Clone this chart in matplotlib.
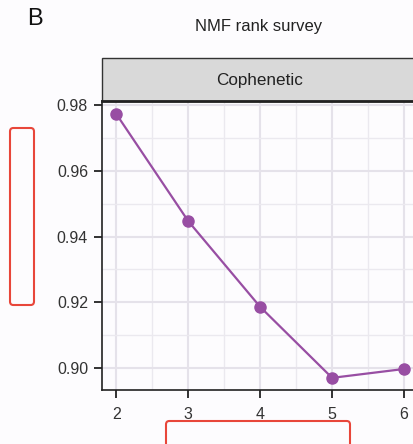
import matplotlib
matplotlib.use("Agg")
import matplotlib.pyplot as plt
from matplotlib.patches import Rectangle, FancyBboxPatch

ranks = [2, 3, 4, 5, 6]
cophenetic = [0.9773, 0.9447, 0.9186, 0.8970, 0.8997]
yticks = [0.90, 0.92, 0.94, 0.96, 0.98]
ytick_labels = ["0.90", "0.92", "0.94", "0.96", "0.98"]
title = "NMF rank survey"
strip_label = "Cophenetic"
panel_letter = "B"

plt.rcParams['font.family'] = ['Liberation Sans', 'DejaVu Sans']

W, H = 414, 444
fig = plt.figure(figsize=(W/100, H/100), dpi=100)
fig.patch.set_facecolor('#fdfcfe')

def fx(px): return px / W
def fy(py): return 1 - py / H

left, right, top, bottom = 102, 418.4, 101, 390
ax = fig.add_axes([fx(left), fy(bottom), fx(right - left), (bottom - top) / H])
ax.set_facecolor('#fdfcfe')

ax.plot(ranks, cophenetic, color='#984ea3', lw=1.6, marker='o', ms=8, zorder=3, clip_on=False)

ax.set_xlim(1.8, 6.2)
ax.set_ylim(0.8933, 0.9813)
ax.set_xticks(ranks)
ax.set_xticklabels([str(r) for r in ranks])
ax.set_yticks(yticks)
ax.set_yticklabels(ytick_labels)
ax.set_xticks([2.5, 3.5, 4.5, 5.5], minor=True)
ax.set_yticks([0.91, 0.93, 0.95, 0.97], minor=True)
ax.grid(which='major', color='#e5e2ea', lw=1.5)
ax.grid(which='minor', color='#ebe9ef', lw=1.0)
ax.set_axisbelow(True)
ax.tick_params(which='minor', length=0)
ax.tick_params(which='major', length=5.5, width=1.3, color='#222222', labelsize=11.5, labelcolor='#333333')
ax.tick_params(axis='x', pad=6.5)
ax.tick_params(axis='y', pad=4.5)
for s in ['top', 'right']:
    ax.spines[s].set_visible(False)
for s in ['left', 'bottom']:
    ax.spines[s].set_color('#222222')
    ax.spines[s].set_linewidth(1.2)

# strip
strip = Rectangle((fx(102), fy(101)), fx(330), (101 - 58) / H, transform=fig.transFigure,
                  facecolor='#d9d9d9', edgecolor='#333333', lw=1.0, zorder=1)
fig.patches.append(strip)
fig.add_artist(plt.Line2D([fx(102), fx(420)], [fy(101), fy(101)], color='#222222', lw=2.0))
fig.text(fx(260), fy(80), strip_label, ha='center', va='center', fontsize=12.3, color='#222222')

fig.text(fx(259), fy(27), title, ha='center', va='center', fontsize=12, color='#222222')
fig.text(fx(27), fy(19), panel_letter, ha='left', va='center', fontsize=17, color='#111111')

# red annotation boxes
for (x0, y0, x1, y1) in [(10, 128, 34, 305), (166, 421, 350, 448)]:
    b = FancyBboxPatch((fx(x0), fy(y1)), fx(x1 - x0), (y1 - y0) / H,
                       boxstyle="round,pad=0,rounding_size=0.008", transform=fig.transFigure,
                       facecolor='none', edgecolor='#e8463a', lw=1.5)
    fig.patches.append(b)

fig.savefig('out.png', dpi=100, facecolor=fig.get_facecolor())
